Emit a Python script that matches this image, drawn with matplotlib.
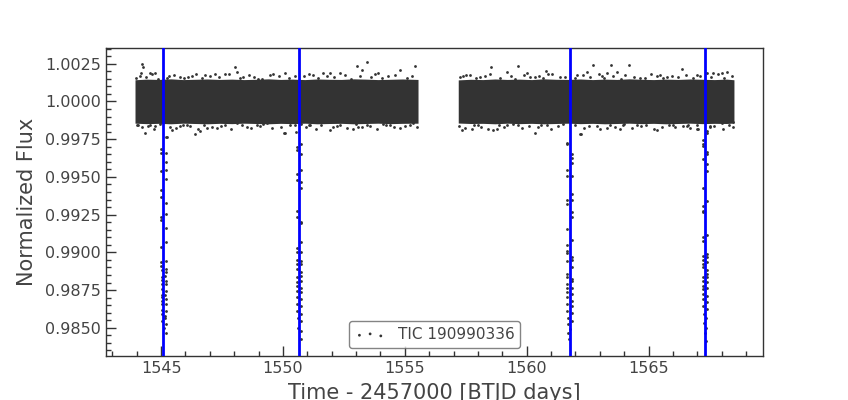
import matplotlib
matplotlib.use("Agg")
import matplotlib.pyplot as plt
from matplotlib.ticker import MultipleLocator, AutoMinorLocator, FormatStrFormatter

# ---------------- data ----------------
target_label = "TIC 190990336"
x_label = "Time - 2457000 [BTJD days]"
y_label = "Normalized Flux"

# dense out-of-transit band (edge of the point cloud), segment 1
seg1_time = [1543.93, 1544.4, 1544.9, 1545.4, 1545.9, 1546.4, 1546.9, 1547.4, 1547.9, 1548.4,
             1548.9, 1549.4, 1549.9, 1550.4, 1550.9, 1551.4, 1551.9, 1552.4, 1552.9, 1553.4,
             1553.9, 1554.4, 1554.9, 1555.54]
seg1_upper = [1.00144, 1.00148, 1.00146, 1.00150, 1.00145, 1.00147, 1.00149, 1.00146, 1.00148, 1.00145,
              1.00147, 1.00150, 1.00146, 1.00148, 1.00145, 1.00149, 1.00147, 1.00146, 1.00150, 1.00148,
              1.00145, 1.00147, 1.00149, 1.00146]
seg1_lower = [0.99856, 0.99853, 0.99855, 0.99852, 0.99856, 0.99854, 0.99852, 0.99855, 0.99853, 0.99856,
              0.99854, 0.99852, 0.99855, 0.99853, 0.99856, 0.99852, 0.99854, 0.99855, 0.99852, 0.99854,
              0.99856, 0.99853, 0.99855, 0.99856]
# segment 2
seg2_time = [1557.19, 1557.7, 1558.2, 1558.7, 1559.2, 1559.7, 1560.2, 1560.7, 1561.2, 1561.7,
             1562.2, 1562.7, 1563.2, 1563.7, 1564.2, 1564.7, 1565.2, 1565.7, 1566.2, 1566.7,
             1567.2, 1567.7, 1568.2, 1568.50]
seg2_upper = [1.00143, 1.00147, 1.00145, 1.00149, 1.00146, 1.00148, 1.00145, 1.00150, 1.00147, 1.00146,
              1.00149, 1.00145, 1.00148, 1.00146, 1.00150, 1.00147, 1.00145, 1.00148, 1.00146, 1.00149,
              1.00147, 1.00145, 1.00148, 1.00144]
seg2_lower = [0.99857, 0.99854, 0.99855, 0.99852, 0.99856, 0.99853, 0.99855, 0.99852, 0.99854, 0.99856,
              0.99853, 0.99855, 0.99852, 0.99854, 0.99856, 0.99853, 0.99855, 0.99852, 0.99854, 0.99856,
              0.99853, 0.99855, 0.99854, 0.99857]

# points just outside the dense band (ragged edge)
edge_time = [
    1543.98, 1544.12, 1544.38, 1544.62, 1544.88, 1545.31, 1545.52, 1545.95, 1546.12, 1546.45,
    1546.66, 1547.02, 1547.38, 1547.80, 1548.22, 1548.61, 1548.80, 1549.15, 1549.45, 1549.82,
    1550.25, 1550.88, 1551.05, 1551.45, 1551.80, 1552.10, 1552.55, 1552.78, 1553.15, 1553.62,
    1553.78, 1554.05, 1554.30, 1554.58, 1555.10, 1555.30,
    1544.05, 1544.22, 1544.45, 1544.70, 1544.95, 1545.35, 1545.60, 1545.88, 1546.20, 1546.50,
    1546.75, 1547.08, 1547.45, 1547.85, 1548.30, 1548.68, 1549.05, 1549.20, 1549.55, 1549.90,
    1550.30, 1550.95, 1551.35, 1551.58, 1552.05, 1552.20, 1552.62, 1553.00, 1553.25, 1553.58,
    1553.85, 1554.22, 1554.55, 1554.82, 1555.20, 1555.48,
    1557.25, 1557.52, 1557.90, 1558.30, 1558.48, 1558.90, 1559.35, 1559.52, 1559.88, 1560.15,
    1560.50, 1560.65, 1561.05, 1561.55, 1562.00, 1562.30, 1562.60, 1562.95, 1563.15, 1563.55,
    1563.85, 1564.05, 1564.40, 1564.85, 1565.10, 1565.35, 1565.60, 1565.95, 1566.20, 1566.55,
    1566.80, 1567.10, 1567.55, 1567.85, 1568.10, 1568.40,
    1557.22, 1557.45, 1557.85, 1558.12, 1558.40, 1558.85, 1559.05, 1559.42, 1559.80, 1560.08,
    1560.45, 1560.60, 1561.00, 1561.30, 1562.00, 1562.35, 1562.55, 1563.00, 1563.40, 1563.60,
    1564.00, 1564.30, 1564.70, 1564.90, 1565.20, 1565.55, 1565.85, 1566.10, 1566.40, 1566.70,
    1567.00, 1567.50, 1567.70, 1568.05, 1568.30, 1568.45]
edge_flux = [
    1.00155, 1.00172, 1.00160, 1.00182, 1.00152, 1.00168, 1.00176, 1.00158, 1.00165, 1.00180,
    1.00153, 1.00170, 1.00162, 1.00184, 1.00156, 1.00174, 1.00160, 1.00152, 1.00178, 1.00166,
    1.00158, 1.00172, 1.00183, 1.00154, 1.00168, 1.00160, 1.00176, 1.00152, 1.00170, 1.00162,
    1.00180, 1.00156, 1.00166, 1.00174, 1.00158, 1.00170,
    0.99845, 0.99828, 0.99838, 0.99818, 0.99848, 0.99832, 0.99824, 0.99842, 0.99835, 0.99820,
    0.99847, 0.99830, 0.99838, 0.99816, 0.99844, 0.99826, 0.99840, 0.99848, 0.99822, 0.99834,
    0.99842, 0.99828, 0.99817, 0.99846, 0.99832, 0.99840, 0.99824, 0.99848, 0.99830, 0.99838,
    0.99820, 0.99844, 0.99834, 0.99826, 0.99842, 0.99830,
    1.00162, 1.00176, 1.00154, 1.00170, 1.00182, 1.00158, 1.00166, 1.00152, 1.00178, 1.00160,
    1.00172, 1.00155, 1.00184, 1.00163, 1.00153, 1.00174, 1.00160, 1.00180, 1.00156, 1.00168,
    1.00152, 1.00176, 1.00162, 1.00158, 1.00182, 1.00166, 1.00154, 1.00172, 1.00160, 1.00178,
    1.00156, 1.00170, 1.00164, 1.00180, 1.00155, 1.00168,
    0.99838, 0.99824, 0.99846, 0.99830, 0.99818, 0.99842, 0.99834, 0.99848, 0.99822, 0.99840,
    0.99828, 0.99845, 0.99816, 0.99837, 0.99847, 0.99826, 0.99840, 0.99820, 0.99844, 0.99832,
    0.99848, 0.99824, 0.99838, 0.99842, 0.99818, 0.99834, 0.99846, 0.99828, 0.99840, 0.99822,
    0.99844, 0.99830, 0.99836, 0.99820, 0.99845, 0.99832]

# scattered outlier points outside the dense band
fringe_time = [1544.21, 1544.27, 1544.17, 1544.55, 1544.75, 1545.23, 1545.78, 1546.26, 1546.80, 1547.21,
               1547.63, 1548.04, 1548.11, 1548.38, 1548.99, 1549.61, 1550.09, 1550.50, 1551.25, 1551.66,
               1551.94, 1552.34, 1553.03, 1553.26, 1553.46, 1553.91, 1554.80, 1555.42,
               1544.00, 1544.34, 1544.55, 1544.75, 1545.23, 1545.44, 1545.78, 1546.05, 1546.40, 1546.60,
               1546.87, 1547.29, 1547.63, 1548.11, 1548.52, 1548.92, 1549.34, 1550.09, 1551.11, 1551.93,
               1552.34, 1552.89, 1553.09, 1553.43, 1554.12, 1554.39, 1555.01, 1555.35,
               1557.40, 1557.67, 1558.08, 1558.54, 1559.18, 1559.66, 1560.00, 1560.34, 1560.79, 1560.89,
               1561.37, 1562.05, 1562.46, 1562.71, 1563.08, 1563.28, 1563.44, 1563.69, 1564.21, 1564.65,
               1565.47, 1565.74, 1566.36, 1566.97, 1567.38, 1567.65, 1568.00, 1568.20,
               1557.33, 1557.74, 1558.02, 1558.63, 1558.77, 1559.18, 1559.66, 1560.34, 1560.82, 1561.50,
               1562.19, 1562.87, 1563.28, 1563.83, 1563.96, 1564.51, 1565.33, 1566.01, 1566.56, 1566.97,
               1567.52, 1568.00, 1568.48]
fringe_flux = [1.00248, 1.00230, 1.00186, 1.00186, 1.00190, 1.00153, 1.00164, 1.00168, 1.00175, 1.00179,
               1.00179, 1.00226, 1.00197, 1.00164, 1.00146, 1.00179, 1.00192, 1.00168, 1.00175, 1.00186,
               1.00190, 1.00186, 1.00235, 1.00208, 1.00259, 1.00190, 1.00208, 1.00235,
               0.99842, 0.99794, 0.99842, 0.99836, 0.99765, 0.99814, 0.99836, 0.99842, 0.99787, 0.99805,
               0.99827, 0.99827, 0.99842, 0.99854, 0.99831, 0.99842, 0.99854, 0.99794, 0.99842, 0.99814,
               0.99842, 0.99820, 0.99831, 0.99842, 0.99849, 0.99842, 0.99836, 0.99854,
               1.00168, 1.00175, 1.00164, 1.00226, 1.00193, 1.00235, 1.00186, 1.00164, 1.00204, 1.00179,
               1.00164, 1.00175, 1.00193, 1.00241, 1.00168, 1.00190, 1.00241, 1.00193, 1.00241, 1.00153,
               1.00175, 1.00164, 1.00213, 1.00175, 1.00186, 1.00186, 1.00186, 1.00197,
               0.99809, 0.99820, 0.99842, 0.99809, 0.99820, 0.99842, 0.99842, 0.99791, 0.99842, 0.99849,
               0.99787, 0.99836, 0.99827, 0.99820, 0.99842, 0.99842, 0.99809, 0.99842, 0.99836, 0.99820,
               0.99836, 0.99854, 0.99864]

# in-transit points (time, flux)
transit1 = [(1545.00, 0.99688), (1545.00, 0.99658), (1545.205, 0.99765), (1545.21, 0.99658), (1545.20, 0.99598),
            (1545.00, 0.99539), (1545.21, 0.99548), (1545.21, 0.99488), (1545.00, 0.99410), (1545.00, 0.99370),
            (1545.21, 0.99328), (1545.00, 0.99237), (1545.00, 0.99215), (1545.21, 0.99251), (1545.19, 0.99162),
            (1545.00, 0.99038), (1545.19, 0.99066), (1545.00, 0.98934), (1545.00, 0.98912), (1545.20, 0.98945),
            (1545.20, 0.98890), (1545.19, 0.98867), (1545.03, 0.98834), (1545.03, 0.98790), (1545.19, 0.98812),
            (1545.19, 0.98790), (1545.20, 0.98745), (1545.03, 0.98701), (1545.19, 0.98690), (1545.03, 0.98657),
            (1545.19, 0.98657), (1545.19, 0.98612), (1545.03, 0.98590), (1545.16, 0.98568), (1545.05, 0.98546),
            (1545.19, 0.98524), (1545.10, 0.98501), (1545.19, 0.98468), (1545.03, 0.98880), (1545.03, 0.98760),
            (1545.04, 0.98720), (1545.05, 0.98620), (1545.17, 0.98720), (1545.18, 0.98580), (1545.04, 0.98820),
            (1545.18, 0.98840), (1545.03, 0.98680)]
transit2 = [(1550.05, 0.99791), (1550.55, 0.99798), (1550.50, 0.99842), (1550.74, 0.99849), (1551.08, 0.99842),
            (1550.57, 0.99698), (1550.58, 0.99676), (1550.74, 0.99721), (1550.74, 0.99650), (1550.57, 0.99521),
            (1550.57, 0.99477), (1550.74, 0.99543), (1550.74, 0.99466), (1550.74, 0.99428), (1550.57, 0.99277),
            (1550.57, 0.99237), (1550.74, 0.99200), (1550.74, 0.99193), (1550.74, 0.99071), (1550.57, 0.99027),
            (1550.57, 0.99000), (1550.74, 0.99005), (1550.57, 0.98950), (1550.57, 0.98923), (1550.74, 0.98940),
            (1550.74, 0.98923), (1550.57, 0.98890), (1550.74, 0.98867), (1550.74, 0.98845), (1550.57, 0.98834),
            (1550.57, 0.98801), (1550.74, 0.98812), (1550.57, 0.98779), (1550.57, 0.98745), (1550.74, 0.98767),
            (1550.74, 0.98734), (1550.58, 0.98701), (1550.73, 0.98690), (1550.58, 0.98657), (1550.73, 0.98646),
            (1550.58, 0.98612), (1550.72, 0.98590), (1550.61, 0.98568), (1550.72, 0.98546), (1550.61, 0.98501),
            (1550.72, 0.98480), (1550.72, 0.98424)]
transit3 = [(1562.21, 0.99787), (1561.67, 0.99725), (1561.67, 0.99716), (1561.87, 0.99654), (1561.87, 0.99625),
            (1561.87, 0.99594), (1561.67, 0.99548), (1561.67, 0.99508), (1561.87, 0.99508), (1561.87, 0.99388),
            (1561.67, 0.99348), (1561.67, 0.99322), (1561.87, 0.99348), (1561.87, 0.99266), (1561.87, 0.99233),
            (1561.67, 0.99156), (1561.87, 0.99082), (1561.67, 0.99051), (1561.67, 0.99011), (1561.67, 0.98993),
            (1561.87, 0.98967), (1561.87, 0.98950), (1561.67, 0.98940), (1561.87, 0.98905), (1561.67, 0.98856),
            (1561.67, 0.98834), (1561.87, 0.98823), (1561.87, 0.98808), (1561.67, 0.98790), (1561.67, 0.98767),
            (1561.87, 0.98767), (1561.67, 0.98734), (1561.87, 0.98723), (1561.67, 0.98701), (1561.87, 0.98679),
            (1561.67, 0.98657), (1561.87, 0.98646), (1561.67, 0.98612), (1561.87, 0.98601), (1561.69, 0.98568),
            (1561.87, 0.98546), (1561.69, 0.98524), (1561.78, 0.98491), (1561.69, 0.98468), (1561.75, 0.98424)]
transit4 = [(1566.60, 0.99842), (1567.01, 0.99820), (1567.22, 0.99743), (1567.22, 0.99721), (1567.22, 0.99703),
            (1567.41, 0.99805), (1567.41, 0.99791), (1567.41, 0.99665), (1567.41, 0.99650), (1567.22, 0.99621),
            (1567.41, 0.99583), (1567.41, 0.99539), (1567.22, 0.99428), (1567.41, 0.99339), (1567.22, 0.99310),
            (1567.22, 0.99277), (1567.22, 0.99266), (1567.41, 0.99118), (1567.22, 0.99105), (1567.22, 0.99078),
            (1567.22, 0.98978), (1567.41, 0.98989), (1567.41, 0.98967), (1567.22, 0.98950), (1567.22, 0.98923),
            (1567.41, 0.98934), (1567.22, 0.98901), (1567.41, 0.98883), (1567.41, 0.98856), (1567.22, 0.98834),
            (1567.41, 0.98834), (1567.22, 0.98812), (1567.41, 0.98801), (1567.22, 0.98779), (1567.22, 0.98757),
            (1567.41, 0.98767), (1567.24, 0.98723), (1567.39, 0.98712), (1567.24, 0.98690), (1567.39, 0.98668),
            (1567.24, 0.98646), (1567.39, 0.98624), (1567.26, 0.98590), (1567.36, 0.98568), (1567.26, 0.98535),
            (1567.36, 0.98501), (1567.31, 0.98468), (1567.34, 0.98413)]

# mid-transit markers
transit_times = [1545.08, 1550.66, 1561.78, 1567.31]

# ---------------- plot ----------------
pt_color = "#333333"
txt_color = "#444444"

fig = plt.figure(figsize=(8.48, 4.0), dpi=100)
ax = fig.add_axes([0.125, 0.11, 0.775, 0.77])

ax.fill_between(seg1_time, seg1_lower, seg1_upper, color=pt_color, lw=0, zorder=2)
ax.fill_between(seg2_time, seg2_lower, seg2_upper, color=pt_color, lw=0, zorder=2)

all_t = list(edge_time) + list(fringe_time)
all_f = list(edge_flux) + list(fringe_flux)
for tr in (transit1, transit2, transit3, transit4):
    all_t += [p[0] for p in tr]
    all_f += [p[1] for p in tr]
ax.scatter(all_t, all_f, s=4, color=pt_color, linewidths=0, zorder=3, label=target_label)

for tt in transit_times:
    ax.axvline(tt, color="#0000ff", lw=2, zorder=4)

ax.set_xlim(1542.74, 1569.70)
ax.set_ylim(0.98313, 1.003544)

ax.xaxis.set_major_locator(MultipleLocator(5))
ax.xaxis.set_minor_locator(AutoMinorLocator(5))
ax.yaxis.set_major_locator(MultipleLocator(0.0025))
ax.yaxis.set_minor_locator(AutoMinorLocator(5))
ax.yaxis.set_major_formatter(FormatStrFormatter("%.4f"))

ax.tick_params(which="both", direction="in", top=False, right=False,
               colors="#333333", labelcolor=txt_color, labelsize=11.5, width=1)
ax.tick_params(which="major", length=7)
ax.tick_params(which="minor", length=3.6)
for sp in ax.spines.values():
    sp.set_color("#333333")
    sp.set_linewidth(1)

ax.set_xlabel(x_label, fontsize=15, color=txt_color, labelpad=5)
ax.set_ylabel(y_label, fontsize=15, color=txt_color, labelpad=6)

leg = ax.legend(loc="lower center", fontsize=11, frameon=True, scatterpoints=3,
                markerscale=1.0, fancybox=True)
leg.get_frame().set_edgecolor("#666666")
leg.get_frame().set_linewidth(1)
for txt in leg.get_texts():
    txt.set_color(txt_color)

fig.savefig("out.png", dpi=100)
